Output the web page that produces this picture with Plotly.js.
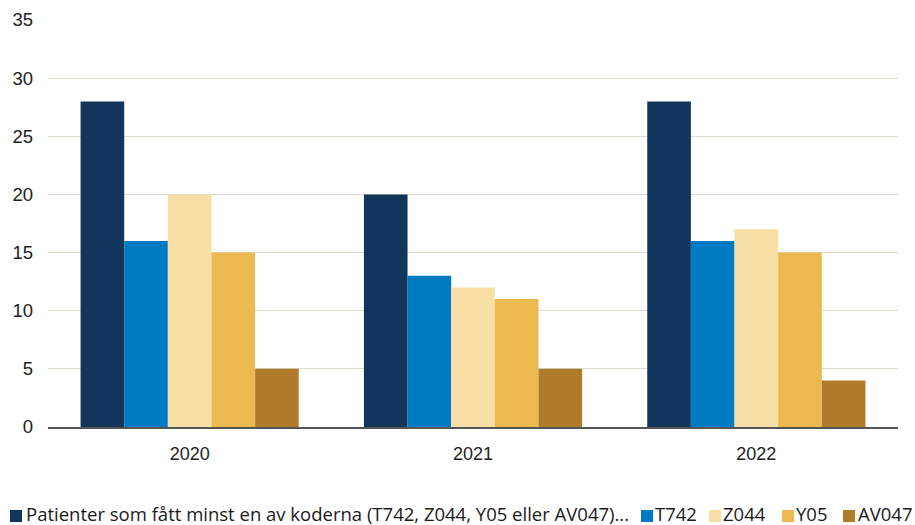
<!DOCTYPE html>
<html>
<head>
<meta charset="utf-8">
<script src="https://cdn.plot.ly/plotly-3.0.1.min.js"></script>
<style>
  html, body { margin: 0; padding: 0; background: #ffffff; }
  #chart { width: 915px; height: 525px; }
</style>
</head>
<body>
<div id="chart"></div>
<script>
// Years on the category axis
const years = ['2020', '2021', '2022'];

// Series names as shown in the legend
const seriesNames = [
  'Patienter som fått minst en av koderna (T742, Z044, Y05 eller AV047)...',
  'T742',
  'Z044',
  'Y05',
  'AV047'
];

// Number of patients per year for each series
const patienterValues = [28, 20, 28];
const t742Values = [16, 13, 16];
const z044Values = [20, 12, 17];
const y05Values = [15, 11, 15];
const av047Values = [5, 5, 4];

const seriesValues = [patienterValues, t742Values, z044Values, y05Values, av047Values];
const seriesColors = ['#12355b', '#007bc2', '#f7dfa5', '#ebb94f', '#b07c2b'];

// Plot area in page pixels
const W = 915, H = 525;
const margin = { l: 48, r: 17, t: 20, b: 98 };
const plotW = W - margin.l - margin.r;
const plotH = H - margin.t - margin.b;
const px = x => (x - margin.l) / plotW;
const py = y => (H - margin.b - y) / plotH;

const traces = seriesNames.map((name, i) => ({
  type: 'bar',
  name: name,
  x: years,
  y: seriesValues[i],
  marker: { color: seriesColors[i], line: { width: 0 } },
  hoverinfo: 'x+y+name',
  showlegend: false
}));

// Legend row drawn along the bottom: colour square followed by its label
const legendItems = [
  { sq: 10, tx: 25 },
  { sq: 641, tx: 654 },
  { sq: 709, tx: 722 },
  { sq: 782, tx: 795 },
  { sq: 843, tx: 857 }
];
const legendMid = 513;
const shapes = legendItems.map((it, i) => ({
  type: 'rect', xref: 'paper', yref: 'paper',
  x0: px(it.sq), x1: px(it.sq + 12),
  y0: py(legendMid + 9), y1: py(legendMid - 3),
  fillcolor: seriesColors[i], line: { width: 0 }
}));
const annotations = legendItems.map((it, i) => ({
  xref: 'paper', yref: 'paper',
  x: px(it.tx), y: py(legendMid),
  xanchor: 'left', yanchor: 'middle',
  borderpad: 0,
  text: seriesNames[i], showarrow: false,
  font: { family: 'Open Sans, Noto Sans, sans-serif', size: 18.5, color: '#1a1a1a' }
}));

const layout = {
  width: W, height: H,
  margin: margin,
  paper_bgcolor: '#ffffff',
  plot_bgcolor: '#ffffff',
  barmode: 'group',
  bargap: 0.23,
  bargroupgap: 0,
  showlegend: false,
  font: { family: 'Liberation Sans, Arial, sans-serif', size: 18, color: '#222222' },
  xaxis: {
    type: 'category',
    showgrid: false,
    showline: true,
    linecolor: '#555555',
    linewidth: 1.5,
    ticks: '',
    ticklabelstandoff: 10,
    tickfont: { family: 'Liberation Sans, Arial, sans-serif', size: 18, color: '#222222' }
  },
  yaxis: {
    range: [0, 35],
    dtick: 5,
    tick0: 0,
    showgrid: true,
    gridcolor: '#dedcce',
    gridwidth: 1,
    zeroline: false,
    showline: false,
    ticks: '',
    ticklabelstandoff: 14,
    tickfont: { family: 'Liberation Sans, Arial, sans-serif', size: 18.5, color: '#222222' }
  },
  shapes: shapes,
  annotations: annotations
};

Plotly.newPlot('chart', traces, layout, { displayModeBar: false, staticPlot: true });
</script>
</body>
</html>
